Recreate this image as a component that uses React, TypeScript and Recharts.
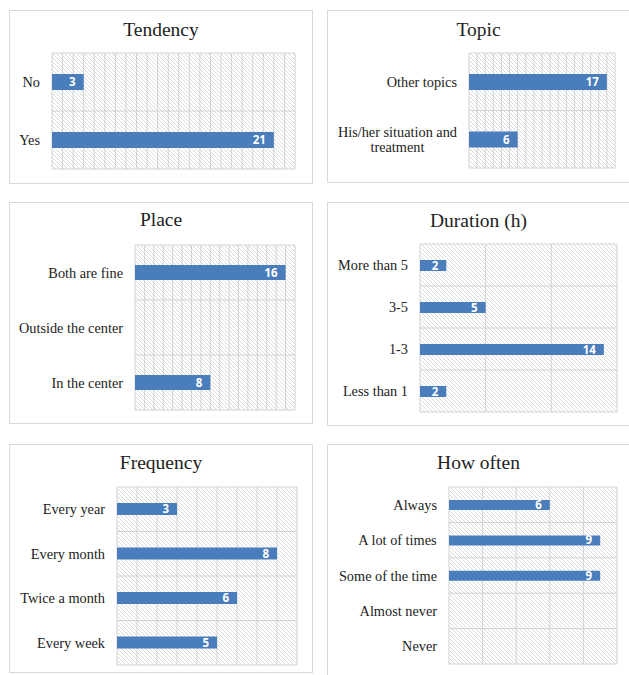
import React from "react";
import { BarChart, Bar, XAxis, YAxis, CartesianGrid, LabelList } from "recharts";

// survey answers
const tendencyCategories = ["No", "Yes"];
const tendencyValues = [3, 21];

const topicCategories = ["Other topics", "His/her situation and treatment"];
const topicValues = [17, 6];

const placeCategories = ["Both are fine", "Outside the center", "In the center"];
const placeValues = [16, 0, 8];

const durationCategories = ["More than 5", "3-5", "1-3", "Less than 1"];
const durationValues = [2, 5, 14, 2];

const frequencyCategories = ["Every year", "Every month", "Twice a month", "Every week"];
const frequencyValues = [3, 8, 6, 5];

const howOftenCategories = ["Always", "A lot of times", "Some of the time", "Almost never", "Never"];
const howOftenValues = [6, 9, 9, 0, 0];

const SERIF = '"Liberation Serif", "Times New Roman", serif';
const LABEL_SIZE = 14.3;
const BAR_COLOR = "#4a7dbb";
const GRID_COLOR = "#d3d3d3";

let ctx: CanvasRenderingContext2D | null = null;
function textWidth(s: string) {
  if (!ctx && typeof document !== "undefined") {
    ctx = document.createElement("canvas").getContext("2d");
  }
  if (!ctx) return s.length * LABEL_SIZE * 0.45;
  ctx.font = `${LABEL_SIZE}px ${SERIF}`;
  return ctx.measureText(s).width;
}

function wrapLabel(label: string, maxWidth: number) {
  const words = label.split(" ");
  const lines: string[] = [];
  let cur = "";
  for (const w of words) {
    const next = cur ? cur + " " + w : w;
    if (cur && textWidth(next) > maxWidth) {
      lines.push(cur);
      cur = w;
    } else {
      cur = next;
    }
  }
  if (cur) lines.push(cur);
  return lines;
}

function WrapTick(props: any) {
  const { x, y, payload, maxWidth } = props;
  const lines = wrapLabel(String(payload.value), maxWidth);
  const widest = Math.max(...lines.map(textWidth));
  const cx = x - widest / 2;
  const lh = 15;
  const y0 = y - ((lines.length - 1) * lh) / 2;
  return (
    <text textAnchor="middle" fontFamily={SERIF} fontSize={LABEL_SIZE} fill="#222">
      {lines.map((l, i) => (
        <tspan key={i} x={cx} y={y0 + i * lh} dy="0.35em">
          {l}
        </tspan>
      ))}
    </text>
  );
}

interface Box { x: number; y: number; w: number; h: number }
interface Plot { x1: number; x2: number; y1: number; y2: number }

interface PanelProps {
  id: string;
  title: string;
  categories: string[];
  values: number[];
  max: number;
  step: number;
  box: Box;
  plot: Plot;
  titleY: number;
  barSize: number;
}

function Panel({ id, title, categories, values, max, step, box, plot, titleY, barSize }: PanelProps) {
  const data = categories.map((name, i) => ({ name, value: values[i] }));
  const ix = box.x + 1;
  const iy = box.y + 1;
  const w = box.w - 2;
  const h = box.h - 2;
  const yAxisWidth = plot.x1 - ix;
  const margin = {
    top: plot.y1 - iy,
    right: ix + w - plot.x2,
    bottom: iy + h - plot.y2,
    left: 0,
  };
  const nCat = categories.length;
  const nSteps = max / step;

  return (
    <div
      style={{
        position: "absolute",
        left: box.x,
        top: box.y,
        width: box.w,
        height: box.h,
        border: "1px solid #d9d9d9",
        boxSizing: "border-box",
        background: "#fff",
      }}
    >
      <div
        style={{
          position: "absolute",
          left: 0,
          right: 0,
          top: titleY - iy - 12,
          height: 24,
          lineHeight: "24px",
          textAlign: "center",
          fontFamily: SERIF,
          fontSize: 19.5,
          color: "#222",
        }}
      >
        {title}
      </div>
      <BarChart layout="vertical" width={w} height={h} data={data} margin={margin}>
        <defs>
          <pattern id={id} width={4} height={4} patternUnits="userSpaceOnUse">
            <path d="M-1,-1 l2,2 M0,0 l4,4 M3,3 l2,2" stroke="#d6d6d6" strokeWidth={0.8} />
          </pattern>
        </defs>
        <CartesianGrid
          fill={`url(#${id})`}
          fillOpacity={1}
          stroke={GRID_COLOR}
          horizontalCoordinatesGenerator={({ offset }: any) =>
            Array.from({ length: nCat + 1 }, (_, i) => offset.top + (offset.height * i) / nCat)
          }
          verticalCoordinatesGenerator={({ offset }: any) =>
            Array.from({ length: nSteps + 1 }, (_, i) => offset.left + (offset.width * i) / nSteps)
          }
        />
        <XAxis type="number" domain={[0, max]} hide />
        <YAxis
          type="category"
          dataKey="name"
          width={yAxisWidth}
          axisLine={false}
          tickLine={false}
          tickMargin={6}
          interval={0}
          tick={<WrapTick maxWidth={yAxisWidth - 8} />}
        />
        <Bar dataKey="value" fill={BAR_COLOR} barSize={barSize} isAnimationActive={false}>
          <LabelList
            dataKey="value"
            position="insideRight"
            offset={8}
            fill="#fff"
            fontFamily='"Open Sans", sans-serif'
            fontWeight="bold"
            fontSize={11.5}
            formatter={(v: any) => (v === 0 ? "" : v)}
          />
        </Bar>
      </BarChart>
    </div>
  );
}

export default function App() {
  return (
    <div
      style={{
        position: "absolute",
        left: 0,
        top: 0,
        width: 629,
        height: 675,
        overflow: "hidden",
        background: "#fff",
      }}
    >
      <Panel
        id="h1"
        title="Tendency"
        categories={tendencyCategories}
        values={tendencyValues}
        max={23}
        step={1}
        box={{ x: 9, y: 10, w: 304, h: 174 }}
        plot={{ x1: 52, x2: 295, y1: 53, y2: 169 }}
        titleY={30}
        barSize={16}
      />
      <Panel
        id="h2"
        title="Topic"
        categories={topicCategories}
        values={topicValues}
        max={18}
        step={1}
        box={{ x: 327, y: 10, w: 303, h: 173 }}
        plot={{ x1: 469, x2: 615, y1: 53, y2: 168 }}
        titleY={30}
        barSize={16}
      />
      <Panel
        id="h3"
        title="Place"
        categories={placeCategories}
        values={placeValues}
        max={17}
        step={1}
        box={{ x: 9, y: 202, w: 304, h: 222 }}
        plot={{ x1: 135, x2: 295, y1: 245, y2: 410 }}
        titleY={220}
        barSize={15}
      />
      <Panel
        id="h4"
        title="Duration (h)"
        categories={durationCategories}
        values={durationValues}
        max={15}
        step={5}
        box={{ x: 327, y: 202, w: 303, h: 224 }}
        plot={{ x1: 420, x2: 617, y1: 244, y2: 412 }}
        titleY={221}
        barSize={11}
      />
      <Panel
        id="h5"
        title="Frequency"
        categories={frequencyCategories}
        values={frequencyValues}
        max={9}
        step={1}
        box={{ x: 9, y: 444, w: 304, h: 229 }}
        plot={{ x1: 117, x2: 297, y1: 487, y2: 665 }}
        titleY={463}
        barSize={12}
      />
      <Panel
        id="h6"
        title="How often"
        categories={howOftenCategories}
        values={howOftenValues}
        max={10}
        step={2}
        box={{ x: 327, y: 444, w: 303, h: 240 }}
        plot={{ x1: 449, x2: 617, y1: 487, y2: 664 }}
        titleY={463}
        barSize={10}
      />
    </div>
  );
}
